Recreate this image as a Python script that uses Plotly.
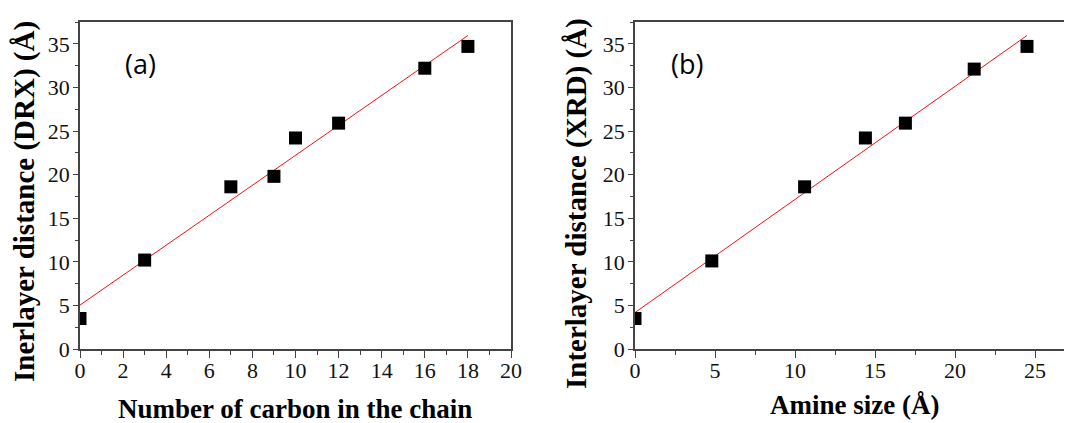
import numpy as np
import plotly.graph_objects as go

# Panel (a)
carbon_n = [0, 3, 7, 9, 10, 12, 16, 18]
dist_a = [3.5, 10.2, 18.6, 19.8, 24.2, 25.9, 32.2, 34.7]
# Panel (b)
amine_size = [0, 4.8, 10.6, 14.4, 16.9, 21.2, 24.5]
dist_b = [3.5, 10.1, 18.6, 24.2, 25.9, 32.1, 34.7]

x_ticks_a = [0, 2, 4, 6, 8, 10, 12, 14, 16, 18, 20]
x_ticks_b = [0, 5, 10, 15, 20, 25]
y_ticks = [0, 5, 10, 15, 20, 25, 30, 35]

OFF = 8  # page body margin
W, H = 1072 - OFF, 423 - OFF

def fit(x, y):
    k, b = np.polyfit(x, y, 1)
    xs = np.array([min(x), max(x)])
    return xs, k * xs + b

fa_x, fa_y = fit(carbon_n, dist_a)
fb_x, fb_y = fit(amine_size, dist_b)

fig = go.Figure()
red = "#f01010"
fig.add_trace(go.Scatter(x=fa_x, y=fa_y, mode="lines", line=dict(color=red, width=1),
                         xaxis="x", yaxis="y", showlegend=False))
fig.add_trace(go.Scatter(x=carbon_n, y=dist_a, mode="markers",
                         marker=dict(symbol="square", size=13, color="black"),
                         xaxis="x", yaxis="y", showlegend=False))
fig.add_trace(go.Scatter(x=fb_x, y=fb_y, mode="lines", line=dict(color=red, width=1),
                         xaxis="x2", yaxis="y2", showlegend=False))
fig.add_trace(go.Scatter(x=amine_size, y=dist_b, mode="markers",
                         marker=dict(symbol="square", size=13, color="black"),
                         xaxis="x2", yaxis="y2", showlegend=False))

tickfont = dict(family="Liberation Serif", size=22, color="#111")
axcol = "#444"

def xaxis(domain, rng, ticks, dtick_minor, anchor):
    return dict(domain=domain, range=rng, tickvals=ticks, ticks="outside", ticklen=7,
                tickwidth=1.3, tickcolor=axcol, showline=True, linecolor=axcol, linewidth=1.5,
                mirror=True, showgrid=False, zeroline=False, tickfont=tickfont, anchor=anchor,
                automargin=False, ticklabelstandoff=-6,
                minor=dict(dtick=dtick_minor, ticks="outside", ticklen=4, tickcolor=axcol, showgrid=False))

def yaxis(domain, anchor, mirror):
    return dict(domain=domain, range=[0, 37.5], tickvals=y_ticks, ticks="outside", ticklen=5,
                tickwidth=1.3, tickcolor=axcol, showline=True, linecolor=axcol, linewidth=1.5,
                mirror=mirror, showgrid=False, zeroline=False, tickfont=tickfont, anchor=anchor,
                automargin=False, ticklabelstandoff=-1,
                minor=dict(dtick=2.5, ticks="outside", ticklen=3, tickcolor=axcol, showgrid=False))

def px_x(x):
    return (x - OFF) / W

def px_y(y):
    return 1 - (y - OFF) / H

ydom = [px_y(349), px_y(22)]
xa_dom = [px_x(80), px_x(511)]
xb_dom = [px_x(635), 1.0]
xb_max = (1072 - 635) / 16.0

fig.update_layout(
    width=W, height=H, margin=dict(l=0, r=0, t=0, b=0),
    font=dict(family="Liberation Serif"),
    plot_bgcolor="white", paper_bgcolor="white",
    xaxis=xaxis(xa_dom, [0, 20], x_ticks_a, 1, "y"),
    yaxis=yaxis(ydom, "x", True),
    xaxis2=xaxis(xb_dom, [0, xb_max], x_ticks_b, 2.5, "y2"),
    yaxis2=yaxis(ydom, "x2", False),
)

def tf(size):
    return dict(family="Liberation Serif", size=size, color="black", weight="bold")

def ann(text, xpx, ypx, angle=0, font=None):
    fig.add_annotation(text=text, x=px_x(xpx), y=px_y(ypx), xref="paper", yref="paper",
                       showarrow=False, textangle=angle, font=font,
                       xanchor="center", yanchor="middle")

ann("Inerlayer distance (DRX) (Å)", 24, 202, -90, tf(29))
ann("Number of carbon in the chain", 295, 409, 0, tf(27))
ann("Interlayer distance (XRD) (Å)", 577, 204, -90, tf(29))
ann("Amine size (Å)", 854, 405, 0, tf(27))

labfont = dict(family="Open Sans", size=27, color="black")
ann("(a)", 140, 64, 0, labfont)
ann("(b)", 687, 64, 0, labfont)

fig.write_html("out.html")
